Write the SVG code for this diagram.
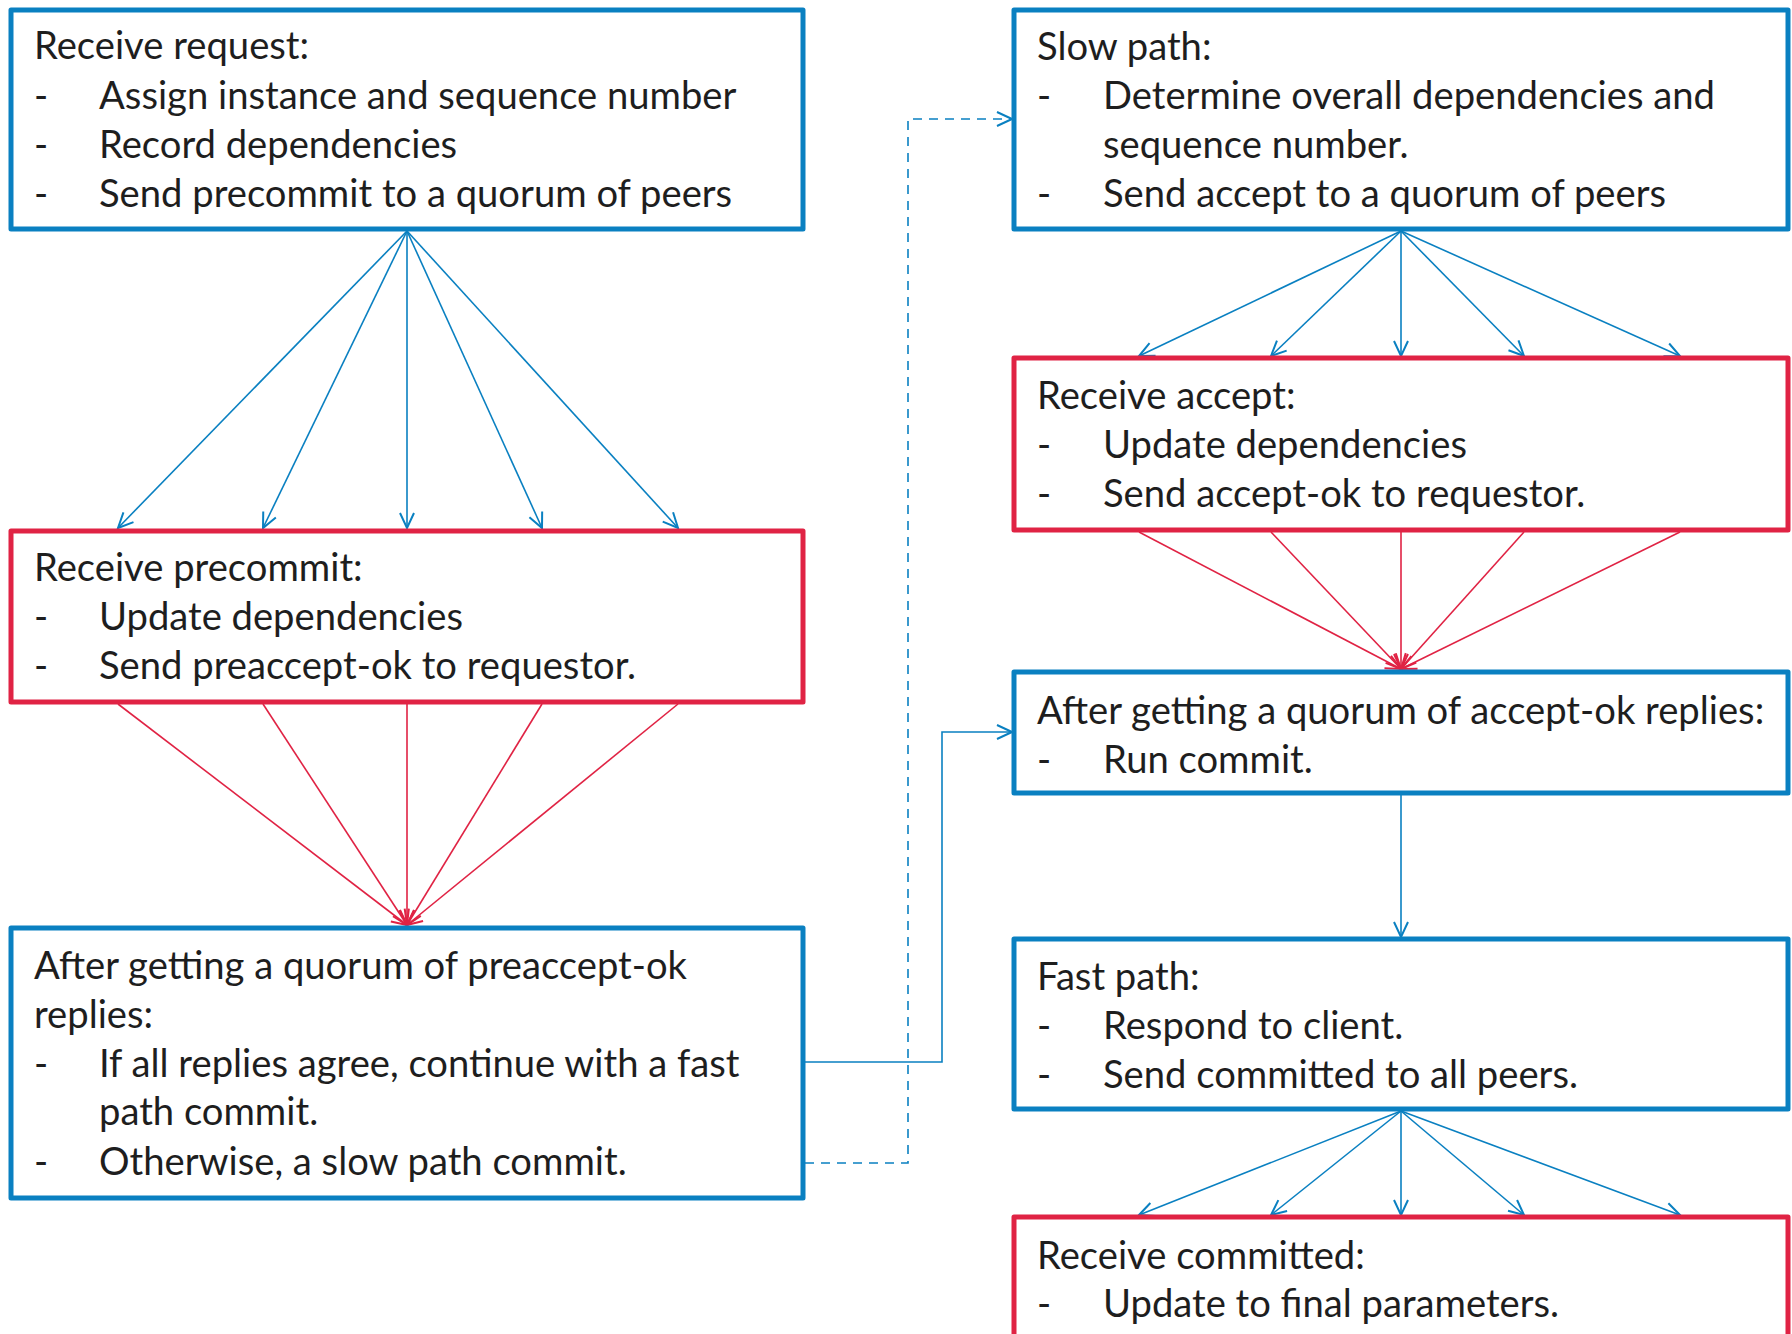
<svg xmlns="http://www.w3.org/2000/svg" width="1792" height="1334" viewBox="0 0 1792 1334">
<defs>
<style>
.box{fill:#fff;stroke-width:5;stroke-linejoin:round}
.blue{stroke:#0A80C1}
.red{stroke:#E02344}
.t{font-family:Lato,"Liberation Sans",sans-serif;font-size:38.2px;fill:#1e1e1e}
.cb{fill:none;stroke:#0A80C1;stroke-width:1.6}
.cr{fill:none;stroke:#E02344;stroke-width:1.6}
</style>
<marker id="ab" markerUnits="userSpaceOnUse" markerWidth="20" markerHeight="20" viewBox="0 0 20 20" refX="18" refY="10" orient="auto">
<path d="M3,3 L18,10 L3,17" fill="none" stroke="#0A80C1" stroke-width="2"/>
</marker>
<marker id="ar" markerUnits="userSpaceOnUse" markerWidth="20" markerHeight="20" viewBox="0 0 20 20" refX="18" refY="10" orient="auto">
<path d="M3,3 L18,10 L3,17" fill="none" stroke="#E02344" stroke-width="2"/>
</marker>
</defs>
<rect width="1792" height="1334" fill="#fff"/>
<g id="connectors">
<path class="cb" d="M407,231 L118,528" marker-end="url(#ab)"/>
<path class="cb" d="M407,231 L263,528" marker-end="url(#ab)"/>
<path class="cb" d="M407,231 L407,528" marker-end="url(#ab)"/>
<path class="cb" d="M407,231 L542,528" marker-end="url(#ab)"/>
<path class="cb" d="M407,231 L678,528" marker-end="url(#ab)"/>
<path class="cr" d="M118,704 L407,925" marker-end="url(#ar)"/>
<path class="cr" d="M263,704 L407,925" marker-end="url(#ar)"/>
<path class="cr" d="M407,704 L407,925" marker-end="url(#ar)"/>
<path class="cr" d="M542,704 L407,925" marker-end="url(#ar)"/>
<path class="cr" d="M678,704 L407,925" marker-end="url(#ar)"/>
<path class="cb" d="M1401,231 L1139,356" marker-end="url(#ab)"/>
<path class="cb" d="M1401,231 L1271,356" marker-end="url(#ab)"/>
<path class="cb" d="M1401,231 L1401,356" marker-end="url(#ab)"/>
<path class="cb" d="M1401,231 L1524,356" marker-end="url(#ab)"/>
<path class="cb" d="M1401,231 L1680,356" marker-end="url(#ab)"/>
<path class="cr" d="M1139,532 L1401,669" marker-end="url(#ar)"/>
<path class="cr" d="M1271,532 L1401,669" marker-end="url(#ar)"/>
<path class="cr" d="M1401,532 L1401,669" marker-end="url(#ar)"/>
<path class="cr" d="M1524,532 L1401,669" marker-end="url(#ar)"/>
<path class="cr" d="M1680,532 L1401,669" marker-end="url(#ar)"/>
<path class="cb" d="M1401,795 L1401,937" marker-end="url(#ab)"/>
<path class="cb" d="M1401,1111 L1139,1215" marker-end="url(#ab)"/>
<path class="cb" d="M1401,1111 L1271,1215" marker-end="url(#ab)"/>
<path class="cb" d="M1401,1111 L1401,1215" marker-end="url(#ab)"/>
<path class="cb" d="M1401,1111 L1524,1215" marker-end="url(#ab)"/>
<path class="cb" d="M1401,1111 L1680,1215" marker-end="url(#ab)"/>
<path class="cb" d="M805,1062 H942 V732 H1012" marker-end="url(#ab)"/>
<path class="cb" d="M805,1163 H908 V119 H1012" stroke-dasharray="9 7" marker-end="url(#ab)"/>
</g>
<g id="n1">
<rect class="box blue" x="11" y="10" width="792" height="219"/>
<text class="t" x="34" y="59">Receive request:</text>
<text class="t" x="34" y="109">-</text><text class="t" x="99" y="109">Assign instance and sequence number</text>
<text class="t" x="34" y="158">-</text><text class="t" x="99" y="158">Record dependencies</text>
<text class="t" x="34" y="207">-</text><text class="t" x="99" y="207">Send precommit to a quorum of peers</text>
</g>
<g id="n2">
<rect class="box red" x="11" y="531" width="792" height="171"/>
<text class="t" x="34" y="581">Receive precommit:</text>
<text class="t" x="34" y="630">-</text><text class="t" x="99" y="630">Update dependencies</text>
<text class="t" x="34" y="679">-</text><text class="t" x="99" y="679">Send preaccept-ok to requestor.</text>
</g>
<g id="n3">
<rect class="box blue" x="11" y="928" width="792" height="270"/>
<text class="t" x="34" y="979">After getting a quorum of preaccept-ok</text>
<text class="t" x="34" y="1028">replies:</text>
<text class="t" x="34" y="1077">-</text><text class="t" x="99" y="1077">If all replies agree, continue with a fast</text>
<text class="t" x="99" y="1125">path commit.</text>
<text class="t" x="34" y="1175">-</text><text class="t" x="99" y="1175">Otherwise, a slow path commit.</text>
</g>
<g id="n4">
<rect class="box blue" x="1014" y="10" width="774" height="219"/>
<text class="t" x="1037" y="60">Slow path:</text>
<text class="t" x="1037" y="109">-</text><text class="t" x="1103" y="109">Determine overall dependencies and</text>
<text class="t" x="1103" y="158">sequence number.</text>
<text class="t" x="1037" y="207">-</text><text class="t" x="1103" y="207">Send accept to a quorum of peers</text>
</g>
<g id="n5">
<rect class="box red" x="1014" y="358" width="774" height="172"/>
<text class="t" x="1037" y="409">Receive accept:</text>
<text class="t" x="1037" y="458">-</text><text class="t" x="1103" y="458">Update dependencies</text>
<text class="t" x="1037" y="507">-</text><text class="t" x="1103" y="507">Send accept-ok to requestor.</text>
</g>
<g id="n6">
<rect class="box blue" x="1014" y="672" width="774" height="121"/>
<text class="t" x="1037" y="724">After getting a quorum of accept-ok replies:</text>
<text class="t" x="1037" y="773">-</text><text class="t" x="1103" y="773">Run commit.</text>
</g>
<g id="n7">
<rect class="box blue" x="1014" y="939" width="774" height="170"/>
<text class="t" x="1037" y="990">Fast path:</text>
<text class="t" x="1037" y="1039">-</text><text class="t" x="1103" y="1039">Respond to client.</text>
<text class="t" x="1037" y="1088">-</text><text class="t" x="1103" y="1088">Send committed to all peers.</text>
</g>
<g id="n8">
<rect class="box red" x="1014" y="1217" width="774" height="140"/>
<text class="t" x="1037" y="1269">Receive committed:</text>
<text class="t" x="1037" y="1317">-</text><text class="t" x="1103" y="1317">Update to final parameters.</text>
</g>
</svg>
